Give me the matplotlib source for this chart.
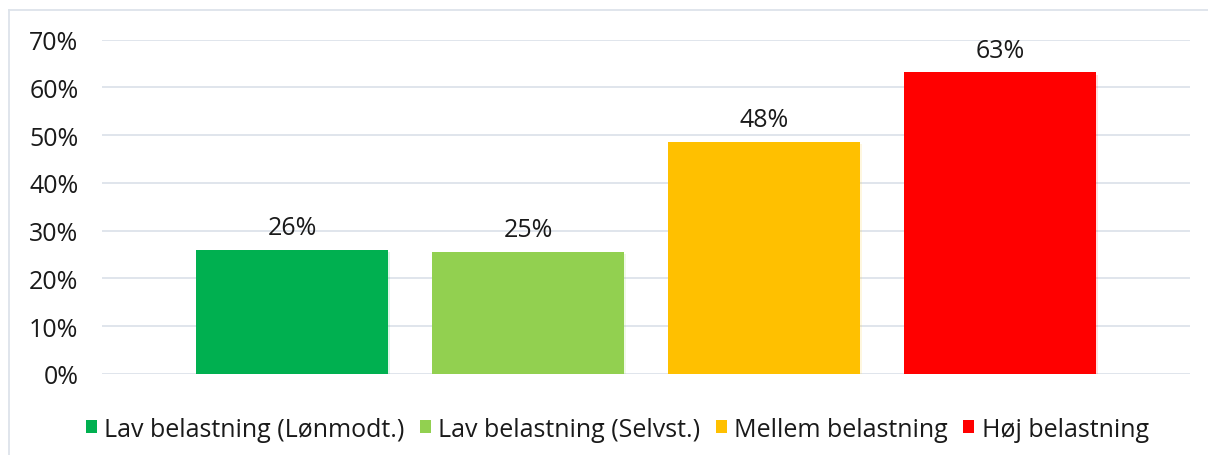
import matplotlib.pyplot as plt
import matplotlib.patheffects as pe
from matplotlib.lines import Line2D
from matplotlib.patches import Patch
from matplotlib.ticker import PercentFormatter

# Data
series = ["Lav belastning (Lønmodt.)", "Lav belastning (Selvst.)", "Mellem belastning", "Høj belastning"]
values = [26.0, 25.6, 48.6, 63.1]
value_labels = ["26%", "25%", "48%", "63%"]
colors = ["#00B050", "#92D050", "#FFC000", "#FF0000"]

plt.rcParams['font.family'] = ['Open Sans', 'DejaVu Sans']
text_color = "#1a1a1a"
fs = 18

fig = plt.figure(figsize=(12.08, 4.56), dpi=100)
ax = fig.add_axes([102 / 1208, 1 - 375 / 456, (1190 - 102) / 1208, (375 - 40.5) / 456])

x = list(range(len(values)))
bars = ax.bar(x, values, width=0.81, color=colors, zorder=3)
for b in bars:
    b.set_path_effects([pe.SimplePatchShadow(offset=(1.5, -1.5), alpha=0.12, rho=1.0), pe.Normal()])

for xi, v, lab in zip(x, values, value_labels):
    ax.annotate(lab, (xi, v), xytext=(0, 7), textcoords="offset points",
                ha="center", va="bottom", fontsize=fs, color=text_color)

ax.set_ylim(0, 70)
ax.set_xlim(-0.805, 3.805)
ax.set_yticks(range(0, 71, 10))
ax.yaxis.set_major_formatter(PercentFormatter(decimals=0))
ax.tick_params(axis='y', length=0, labelsize=fs, labelcolor=text_color, pad=17)
ax.set_xticks([])
ax.grid(axis='y', color="#dde3ea", linewidth=1.3, zorder=0)
for s in ax.spines.values():
    s.set_visible(False)

handles = [Patch(facecolor=c, edgecolor='none') for c in colors]
fig.legend(handles, series, loc="center", bbox_to_anchor=(0.511, 0.057), ncol=4,
           frameon=False, fontsize=fs, handlelength=0.45, handleheight=0.45,
           handletextpad=0.3, columnspacing=0.6, labelcolor=text_color)

# chart border (left and top visible)
fig.add_artist(Line2D([9 / 1208, 9 / 1208], [0, 1 - 11 / 456], transform=fig.transFigure, color="#dde3ea", lw=1.3))
fig.add_artist(Line2D([9 / 1208, 1], [1 - 11 / 456, 1 - 11 / 456], transform=fig.transFigure, color="#dde3ea", lw=1.3))

fig.savefig("out.png", dpi=100)
